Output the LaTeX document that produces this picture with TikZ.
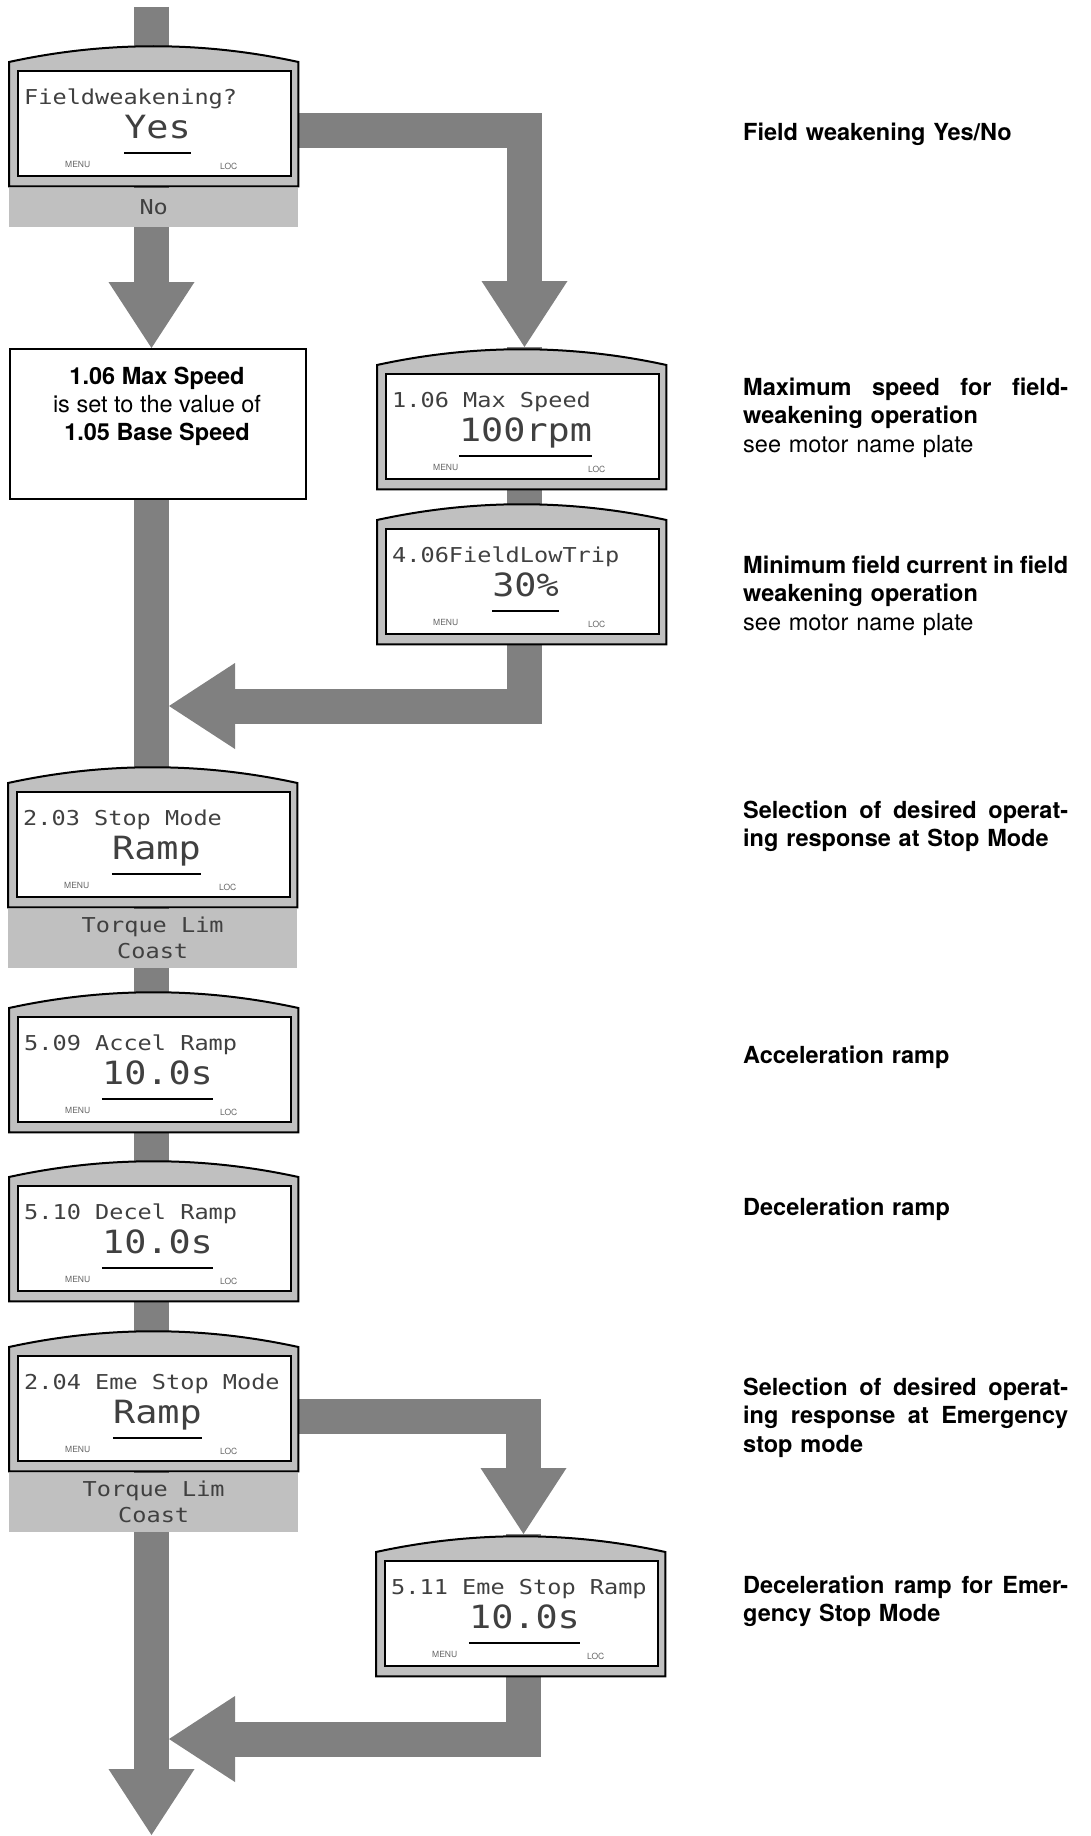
\documentclass[tikz,border=0pt]{standalone}
\usepackage{fontspec}
\setmainfont{TeX Gyre Heros}
\newfontfamily\lcdfont[FakeStretch=1.15]{DejaVu Sans Mono}
\usetikzlibrary{arrows.meta,backgrounds}

\definecolor{lcdgrau}{RGB}{192,192,192}
\definecolor{pfeilgrau}{RGB}{128,128,128}

% Volle Zeile (Blocksatz) in den Hinweistexten
\newcommand{\voll}[1]{\makebox[325pt][s]{\spaceskip=0pt\relax #1}}

\tikzset{
  fluss/.style={draw=pfeilgrau, line width=35pt, line join=miter},
  spitze/.style={-{Triangle[length=66pt,width=86pt,line width=0pt]}},
  gehaeuse/.style={fill=lcdgrau, draw=black, line width=2pt},
  anzeige/.style={draw=black, line width=2pt, fill=white, inner sep=0pt,
    minimum width=273pt, minimum height=105pt, anchor=north west},
  zeile/.style={font=\lcdfont\fontsize{20.5}{26}\selectfont, text=black!75,
    inner sep=0pt, anchor=base west},
  wert/.style={font=\lcdfont\fontsize{32}{36}\selectfont, text=black!75,
    inner sep=0pt, anchor=base},
  taste/.style={font=\fontsize{8.5}{10}\selectfont, text=black!60,
    inner sep=0pt, anchor=base west},
  auswahl/.style={fill=lcdgrau, minimum width=289pt, inner sep=0pt, anchor=north,
    align=center, font=\lcdfont\fontsize{20.5}{26}\selectfont, text=black!75},
  hinweis/.style={font=\bfseries\fontsize{23.5}{28.5}\selectfont, text width=325pt,
    align=left, inner sep=0pt, anchor=base west},
}

% LCD-Bedienfeld: #1 Name, #2 linke obere Ecke des Gehaeuses, #3 Parameter, #4 Wert
\newcommand{\lcd}[4]{%
  \begin{scope}[shift={#2}]
    \node[minimum width=289pt, minimum height=124pt, inner sep=0pt, anchor=north west] (#1) at (0,0) {};
    \coordinate (#1-oben) at (147.5,-18);
    \filldraw[gehaeuse] (#1.south west) -- (#1.north west)
      .. controls +(96,-21) and +(-96,-21) .. (#1.north east) -- (#1.south east) -- cycle;
    \node[anzeige] (#1-lcd) at (8,8) {};
    \node[zeile] (#1-par) at (15,42) {#3};
    \node[wert] (#1-wert) at (148.5,76) {#4};
    \draw[line width=2.5pt] (#1-wert.west |- 0,91) -- (#1-wert.east |- 0,91);
    \node[taste] (#1-menu) at (56,105) {MENU};
    \node[taste] (#1-loc) at (211,107) {LOC};
  \end{scope}
}

\begin{document}
\begin{tikzpicture}[x=1pt,y=-1pt]
\useasboundingbox (0,0) rectangle (1090,1836);

% Hauptstrang und Einmuendungen
\coordinate (start) at (151.5,7);
\coordinate (ende) at (151.5,1835);
\coordinate (ein1) at (169,706);
\coordinate (ein2) at (169,1739);

% ------------------- Linke Spalte -------------------
\lcd{fw}{(9,62)}{Fieldweakening?}{Yes}
\node[auswahl, minimum height=39pt] (fw-opt) at ([yshift=-1pt]fw.south) {No};

\node[draw, line width=2pt, fill=white, minimum width=296pt, minimum height=150pt,
  inner sep=0pt, anchor=north west] (maxbox) at (9,348) {};
\node[font=\fontsize{23.5}{28}\selectfont, align=center, inner sep=0pt, anchor=north]
  (maxtext) at (157,367) {\textbf{1.06 Max Speed}\\is set to the value of\\\textbf{1.05 Base Speed}};

\lcd{stopm}{(8,783)}{2.03 Stop Mode}{Ramp}
\node[auswahl, minimum height=59pt] (stopm-opt) at ([yshift=-1pt]stopm.south) {Torque Lim\\Coast};

\lcd{accel}{(9,1008)}{5.09 Accel Ramp}{10.0s}
\lcd{decel}{(9,1177)}{5.10 Decel Ramp}{10.0s}

\lcd{estop}{(9,1347)}{2.04 Eme Stop Mode}{Ramp}
\node[auswahl, minimum height=59pt] (estop-opt) at ([yshift=-1pt]estop.south) {Torque Lim\\Coast};

% ------------------- Rechte Spalte -------------------
\lcd{maxsp}{(377,365)}{1.06 Max Speed}{100rpm}
\lcd{flt}{(377,520)}{4.06FieldLowTrip}{30\%}
\lcd{esramp}{(376,1552)}{5.11 Eme Stop Ramp}{10.0s}

% ------------------- Pfeile -------------------
\begin{scope}[on background layer]
  \draw[fluss, spitze] (start) -- (start |- maxbox.north);
  \draw[fluss, spitze] ([yshift=-6pt]fw.east) -| (maxsp-oben);
  \draw[fluss] (maxsp-oben) -- (flt-oben);
  \draw[fluss, spitze] (flt-oben) |- (ein1);
  \draw[fluss, spitze] (start |- maxbox.south) -- (ende);
  \draw[fluss, spitze] ([yshift=-7pt]estop.east) -| (esramp-oben);
  \draw[fluss, spitze] (esramp-oben) |- (ein2);
\end{scope}

% ------------------- Hinweistexte -------------------
\node[hinweis] (h1) at (743,140) {Field weakening Yes/No};
\node[hinweis] (h2) at (743,395) {\voll{Maximum speed for field-}\\weakening operation\\\mdseries see motor name plate};
\node[hinweis] (h3) at (743,573) {\voll{Minimum field current in field}\\weakening operation\\\mdseries see motor name plate};
\node[hinweis] (h4) at (743,818) {\voll{Selection of desired operat-}\\ing response at Stop Mode};
\node[hinweis] (h5) at (743,1063) {Acceleration ramp};
\node[hinweis] (h6) at (743,1215) {Deceleration ramp};
\node[hinweis] (h7) at (743,1395) {\voll{Selection of desired operat-}\\\voll{ing response at Emergency}\\stop mode};
\node[hinweis] (h8) at (743,1593) {\voll{Deceleration ramp for Emer-}\\gency Stop Mode};

\end{tikzpicture}
\end{document}
